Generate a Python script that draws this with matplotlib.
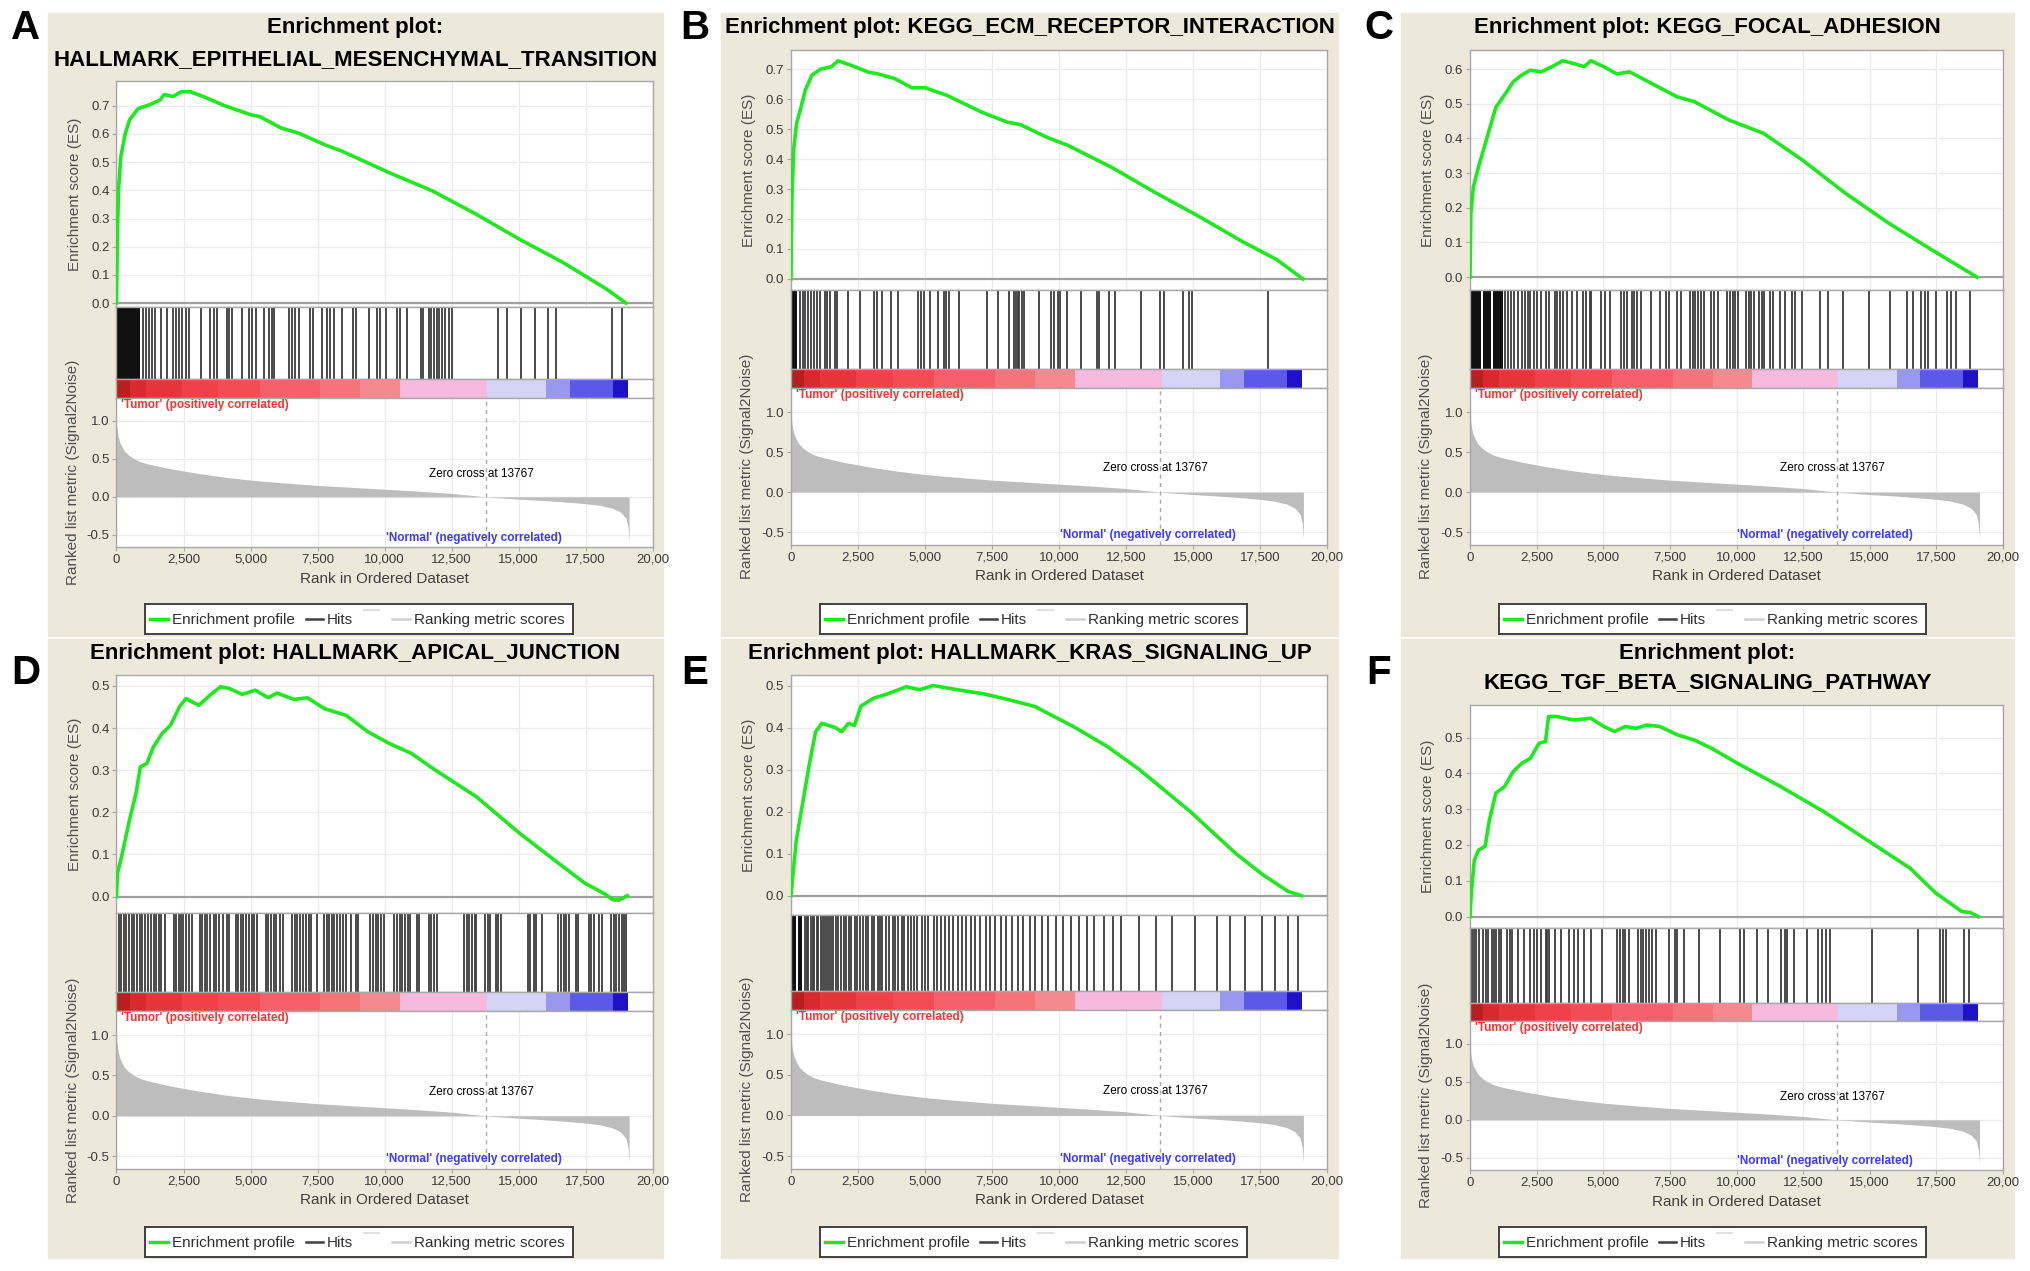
import matplotlib
matplotlib.use('Agg')
import matplotlib.pyplot as plt
from matplotlib.patches import Rectangle

W, H = 2031, 1271
plt.rcParams['font.family'] = ['Liberation Sans', 'DejaVu Sans']

# ---- shared ranked list (same dataset in every panel) ----
metric_rank = [0, 20, 60, 120, 200, 300, 450, 650, 900, 1200, 1600, 2000, 2500, 3000,
               4000, 5000, 6000, 7500, 9000, 10000, 11000, 12500, 13767, 15000, 16000,
               17000, 17500, 18000, 18500, 18800, 19000, 19080, 19120]
metric_value = [0.97, 0.90, 0.80, 0.72, 0.66, 0.60, 0.55, 0.50, 0.46, 0.43, 0.40, 0.37,
                0.34, 0.31, 0.26, 0.22, 0.19, 0.15, 0.12, 0.10, 0.08, 0.045, 0.0, -0.03,
                -0.05, -0.075, -0.09, -0.11, -0.15, -0.20, -0.28, -0.40, -0.58]
zero_cross = 13767
bar_edges = [0, 485, 1100, 2425, 3800, 5336, 7600, 9100, 10591, 13825, 16008, 16898, 18515, 19080]
bar_colors = ['#b82020', '#d82a2e', '#e4353b', '#ee4248', '#f24c54', '#f4606a', '#f47478',
              '#f48a90', '#f6bade', '#d4d4f6', '#9898f0', '#5a5ae6', '#1e12c6']
xtick_vals = [0, 2500, 5000, 7500, 10000, 12500, 15000, 17500, 20000]
xtick_text = ['0', '2,500', '5,000', '7,500', '10,000', '12,500', '15,000', '17,500', '20,00']

# ---- panel A ----
title_a = ['Enrichment plot:', 'HALLMARK_EPITHELIAL_MESENCHYMAL_TRANSITION']
es_rank_a = [0, 32, 81, 162, 323, 485, 808, 1213, 1617, 1779, 2102, 2425, 2749, 3234, 4042,
             5013, 5336, 6145, 6791, 7762, 8408, 10187, 11804, 13421, 15038, 16655, 18272, 19000]
es_score_a = [0, 0.25, 0.41, 0.52, 0.60, 0.65, 0.69, 0.703, 0.72, 0.74, 0.733, 0.75, 0.75, 0.733,
              0.70, 0.668, 0.662, 0.621, 0.603, 0.562, 0.539, 0.462, 0.397, 0.315, 0.226,
              0.144, 0.05, 0.0]
dense_a = [(0, 870)]
hits_a = [986, 1091, 1223, 1315, 1420, 1657, 1880, 2117, 2235, 2341, 2446, 2577, 2709, 3156,
          3498, 3629, 3761, 4116, 4208, 4313, 4681, 4944, 5036, 5207, 5497, 5694, 5786, 5891,
          6444, 6549, 6654, 6812, 7233, 7311, 7666, 7864, 7969, 8100, 8416, 8811, 8916, 9415,
          9705, 9810, 10034, 10467, 10573, 10822, 11348, 11441, 11651, 11743, 11835, 11940,
          12045, 12137, 12269, 12400, 12532, 14241, 14570, 15070, 15622, 16082, 16411,
          18489, 18844]

# ---- panel B ----
title_b = ['Enrichment plot: KEGG_ECM_RECEPTOR_INTERACTION']
es_rank_b = [0, 32, 97, 211, 373, 535, 779, 1103, 1508, 1752, 2238, 2887, 3211, 3860, 4509,
             4995, 5807, 7104, 8077, 8564, 9537, 10348, 11970, 13592, 15214, 16836, 18134, 19100]
es_score_b = [0, 0.26, 0.43, 0.52, 0.573, 0.63, 0.68, 0.70, 0.708, 0.728, 0.713, 0.69, 0.685,
              0.669, 0.638, 0.638, 0.613, 0.557, 0.523, 0.515, 0.473, 0.445, 0.372, 0.288,
              0.209, 0.125, 0.064, 0.0]
dense_b = [(0, 240)]
hits_b = [342, 434, 526, 631, 763, 868, 973, 1091, 1262, 1354, 1447, 1657, 1710, 2117, 2577,
          3103, 3195, 3393, 3721, 3984, 4747, 4839, 4971, 5168, 5497, 5694, 5786, 5891, 6286,
          7311, 7706, 8127, 8324, 8390, 8455, 8521, 8626, 8705, 9245, 9705, 9810, 9968, 10034,
          10296, 10822, 11414, 11480, 11874, 12072, 13058, 13781, 13913, 14636, 14833, 14965,
          17792]

# ---- panel C ----
title_c = ['Enrichment plot: KEGG_FOCAL_ADHESION']
es_rank_c = [0, 32, 130, 324, 648, 971, 1295, 1619, 1943, 2266, 2671, 3076, 3481, 3886, 4290,
             4533, 5019, 5505, 5990, 6800, 7771, 8419, 9714, 11009, 12466, 14085, 15704,
             17323, 19023]
es_score_c = [0, 0.184, 0.261, 0.319, 0.405, 0.49, 0.525, 0.563, 0.583, 0.597, 0.592, 0.607,
              0.624, 0.616, 0.607, 0.624, 0.607, 0.586, 0.592, 0.559, 0.52, 0.506, 0.453,
              0.415, 0.338, 0.242, 0.156, 0.079, 0.0]
dense_c = [(0, 420), (470, 800), (870, 1240)]
hits_c = [1330, 1422, 1528, 1659, 1791, 1949, 2055, 2160, 2252, 2384, 2515, 2647, 2845, 2976,
          3174, 3266, 3372, 3503, 3635, 3832, 4004, 4228, 4359, 4491, 4557, 4926, 5057, 5242,
          5676, 5768, 5874, 6071, 6137, 6269, 6401, 6796, 7125, 7349, 7454, 7783, 7915, 8244,
          8350, 8442, 8574, 8666, 8771, 9034, 9166, 9298, 9627, 9759, 9851, 9956, 10062,
          10351, 10457, 10549, 10641, 10852, 10944, 11036, 11273, 11378, 11642, 11826, 12090,
          12195, 12459, 13117, 13447, 14013, 14961, 15778, 16410, 16607, 16937, 17068, 17174,
          17490, 17885, 18056, 18254, 18780]

# ---- panel D ----
title_d = ['Enrichment plot: HALLMARK_APICAL_JUNCTION']
es_rank_d = [0, 32, 162, 323, 485, 728, 889, 1132, 1374, 1698, 2021, 2345, 2587, 3072, 3557,
             3881, 4204, 4689, 5174, 5660, 5983, 6630, 7115, 7762, 8570, 9379, 10187, 10996,
             11804, 13421, 15038, 16655, 17464, 18272, 18515, 18757, 19050]
es_score_d = [0, 0.055, 0.087, 0.134, 0.182, 0.245, 0.308, 0.316, 0.355, 0.387, 0.407, 0.45,
              0.47, 0.454, 0.482, 0.498, 0.494, 0.48, 0.49, 0.472, 0.483, 0.468, 0.472, 0.446,
              0.43, 0.391, 0.363, 0.34, 0.304, 0.237, 0.15, 0.071, 0.032, 0.004, -0.008,
              -0.008, 0.002]
dense_d = []
hits_d = [79, 171, 263, 368, 473, 565, 658, 763, 868, 960, 1065, 1184, 1289, 1394, 1486, 1578,
          1657, 1815, 2143, 2236, 2314, 2406, 2499, 2604, 2709, 2801, 3103, 3196, 3288, 3393,
          3498, 3629, 3722, 3814, 3985, 4116, 4208, 4445, 4550, 4642, 4734, 4839, 4944, 5036,
          5129, 5234, 5562, 5655, 5760, 5865, 5957, 6088, 6220, 6549, 6654, 6746, 6838, 6943,
          7075, 7180, 7272, 7469, 7732, 7837, 7930, 8022, 8127, 8232, 8324, 8455, 8548, 8758,
          8916, 9021, 9468, 9573, 9678, 9771, 9863, 9968, 10362, 10467, 10559, 10652, 10757,
          10862, 10954, 11217, 11283, 11651, 11743, 11835, 11940, 12966, 13058, 13150, 13255,
          13360, 13413, 13755, 13847, 13913, 14149, 14241, 14334, 15333, 15425, 15556, 15649,
          15859, 16477, 16569, 16674, 16779, 16871, 17134, 17200, 17621, 17700, 17792, 17989,
          18094, 18449, 18542, 18647, 18752, 18844, 18936, 19015]

# ---- panel E ----
title_e = ['Enrichment plot: HALLMARK_KRAS_SIGNALING_UP']
es_rank_e = [0, 193, 435, 676, 918, 1150, 1401, 1650, 1884, 2150, 2367, 2609, 3092, 3600,
             4300, 4800, 5300, 6200, 7200, 8200, 9100, 10600, 11800, 13000, 14900, 16600,
             17600, 18550, 19050]
es_score_e = [0, 0.13, 0.22, 0.31, 0.39, 0.41, 0.405, 0.40, 0.39, 0.41, 0.405, 0.451, 0.47,
              0.48, 0.497, 0.49, 0.50, 0.49, 0.48, 0.465, 0.45, 0.40, 0.355, 0.30, 0.20, 0.10,
              0.05, 0.01, 0.0]
dense_e = [(0, 180), (260, 420)]
hits_e = [520, 590, 640, 730, 810, 870, 960, 1020, 1110, 1190, 1250, 1340, 1430, 1480, 1570,
          1690, 1760, 1850, 1990, 2060, 2180, 2250, 2390, 2470, 2560, 2700, 2780, 2870, 3010,
          3090, 3230, 3330, 3400, 3560, 3650, 3790, 3880, 3990, 4130, 4210, 4360, 4480, 4590,
          4720, 4890, 4990, 5120, 5330, 5450, 5600, 5760, 5880, 6030, 6240, 6390, 6520, 6710,
          6880, 7050, 7260, 7420, 7610, 7840, 8010, 8230, 8470, 8640, 8900, 9120, 9350, 9600,
          9890, 10150, 10430, 10760, 11040, 11320, 11680, 12010, 12330, 12990, 13620, 14200,
          15070, 15890, 16370, 16950, 17580, 18060, 18550, 18930]

# ---- panel F ----
title_f = ['Enrichment plot:', 'KEGG_TGF_BETA_SIGNALING_PATHWAY']
es_rank_f = [0, 49, 162, 324, 567, 729, 971, 1295, 1619, 1943, 2266, 2590, 2833, 2947, 3238,
             3886, 4533, 5019, 5424, 5829, 6234, 6638, 7124, 7771, 8419, 9066, 10038, 11657,
             13276, 14895, 16514, 17485, 18457, 18781, 19070]
es_score_f = [0, 0.065, 0.158, 0.186, 0.196, 0.27, 0.345, 0.363, 0.405, 0.428, 0.442, 0.484,
              0.489, 0.559, 0.559, 0.549, 0.554, 0.531, 0.517, 0.531, 0.526, 0.535, 0.531,
              0.508, 0.493, 0.47, 0.428, 0.363, 0.293, 0.214, 0.135, 0.065, 0.014, 0.011, 0.0]
dense_f = []
hits_f = [81, 162, 243, 324, 486, 616, 680, 810, 891, 972, 1102, 1166, 1377, 1490, 1588, 1814,
          2025, 2268, 2398, 2511, 2673, 2835, 2900, 2948, 3208, 3402, 3726, 3888, 4050, 4293,
          4536, 4941, 5508, 5638, 5751, 5832, 5962, 6286, 6399, 6480, 6610, 6723, 6836, 6998,
          7484, 7695, 7776, 8019, 8586, 9396, 10125, 10287, 10773, 11178, 11664, 11826, 11907,
          12150, 12636, 13041, 13203, 13365, 13527, 15066, 16816, 17626, 17739, 17852, 18549,
          18711]

BG = '#ece8da'
GRAY = '#a8a8a8'
GRID = '#ececec'
TICKC = '#3a3a3a'


def box(l, t, r, b):
    return [l / W, 1 - b / H, (r - l) / W, (b - t) / H]


def style(ax):
    for s in ax.spines.values():
        s.set_color(GRAY)
        s.set_linewidth(1.0)


def panel(fig, letter, col_geo, geo, title, es_x, es_y, es_lim, es_top_tick, hits, dense):
    bg_l, bg_r, ax_l, ax_r, letter_x = col_geo
    bg_t, bg_b, title_ys, letter_y, es_t, hits_t, bar_t, rank_t, rank_b, leg_t = geo

    fig.patches.append(Rectangle((bg_l / W, 1 - bg_b / H), (bg_r - bg_l) / W, (bg_b - bg_t) / H,
                                 transform=fig.transFigure, color=BG, zorder=-5))
    fig.text(letter_x / W, 1 - letter_y / H, letter, fontsize=29, weight='bold',
             ha='center', va='center')
    cx = (bg_l + bg_r) / 2
    for s, ty in zip(title, title_ys):
        fig.text(cx / W, 1 - ty / H, s, fontsize=16, weight='bold', ha='center', va='center')

    # enrichment score
    ax = fig.add_axes(box(ax_l, es_t, ax_r, hits_t))
    style(ax)
    ax.set_xlim(0, 20000)
    ax.set_ylim(*es_lim)
    ax.set_xticks(xtick_vals)
    ax.tick_params(axis='x', length=0, labelbottom=False)
    ticks = [i / 10 for i in range(int(round(es_top_tick * 10)) + 1)]
    ax.set_yticks(ticks)
    ax.set_yticklabels(['%.1f' % t for t in ticks])
    ax.tick_params(axis='y', length=3, color=GRAY, labelsize=9.5, labelcolor=TICKC, pad=2)
    ax.grid(True, color=GRID, lw=1.0)
    ax.axhline(0, color='#a0a0a0', lw=1.6, zorder=2)
    ax.plot(es_x, es_y, color='#1ee81e', lw=2.6, zorder=3)
    fig.text((ax_l - 42) / W, 1 - (es_t + hits_t) / 2 / H, 'Enrichment score (ES)',
             rotation=90, fontsize=11, color='#505050', ha='center', va='center')

    # hits
    axh = fig.add_axes(box(ax_l, hits_t, ax_r, bar_t))
    style(axh)
    axh.set_xlim(0, 20000)
    axh.set_ylim(0, 1)
    axh.set_xticks([])
    axh.set_yticks([])
    for a, b in dense:
        axh.axvspan(a, b, color='#111111', lw=0)
    axh.vlines(hits, 0, 1, color='#3c3c3c', lw=1.3)

    # colour bar
    axb = fig.add_axes(box(ax_l, bar_t, ax_r, rank_t))
    style(axb)
    axb.set_xlim(0, 20000)
    axb.set_ylim(0, 1)
    axb.set_xticks([])
    axb.set_yticks([])
    for i, c in enumerate(bar_colors):
        axb.axvspan(bar_edges[i], bar_edges[i + 1], color=c, lw=0)

    # ranked list metric
    axr = fig.add_axes(box(ax_l, rank_t, ax_r, rank_b))
    style(axr)
    axr.set_xlim(0, 20000)
    axr.set_ylim(-0.66, 1.30)
    axr.set_xticks(xtick_vals)
    axr.set_xticklabels(xtick_text)
    axr.set_yticks([-0.5, 0.0, 0.5, 1.0])
    axr.set_yticklabels(['-0.5', '0.0', '0.5', '1.0'])
    axr.tick_params(length=3, color=GRAY, labelsize=9.5, labelcolor=TICKC, pad=2)
    axr.grid(True, color=GRID, lw=1.0)
    axr.fill_between(metric_rank, 0, metric_value, color='#bdbdbd', lw=0, zorder=2)
    axr.axvline(zero_cross, color='#a8a8a8', lw=1.0, ls=(0, (3, 3)), zorder=3)
    axr.text(13600, 0.30, 'Zero cross at 13767', fontsize=8.5, ha='center', va='center')
    axr.text(13330, -0.54, "'Normal' (negatively correlated)", fontsize=8.5,
             color='#3b3bff', weight='bold', ha='center', va='center')
    fig.text((ax_l + 5) / W, 1 - (rank_t + 7) / H, "'Tumor' (positively correlated)",
             fontsize=8.5, color='#ff3030', weight='bold', ha='left', va='center')
    axr.set_xlabel('Rank in Ordered Dataset', fontsize=11, color='#404040', labelpad=4)
    fig.text((ax_l - 44) / W, 1 - (rank_t + rank_b) / 2 / H,
             'Ranked list metric (Signal2Noise)', rotation=90, fontsize=11,
             color='#505050', ha='center', va='center')

    # legend
    axl = fig.add_axes(box(ax_l + 29, leg_t, ax_l + 456, leg_t + 30))
    axl.set_xlim(0, 427)
    axl.set_ylim(0, 30)
    axl.set_xticks([])
    axl.set_yticks([])
    for s in axl.spines.values():
        s.set_color('#404040')
        s.set_linewidth(1.4)
    axl.plot([5, 23], [15, 15], color='#1ee81e', lw=2.5)
    axl.text(27, 14, 'Enrichment profile', fontsize=11, color='#303030', va='center')
    axl.plot([160, 177], [15, 15], color='#404040', lw=1.8)
    axl.text(181, 14, 'Hits', fontsize=11, color='#303030', va='center')
    axl.plot([218, 233], [24, 24], color='#e0e0e0', lw=1.5)
    axl.plot([246, 264], [15, 15], color='#d0d0d0', lw=1.8)
    axl.text(268, 14, 'Ranking metric scores', fontsize=11, color='#303030', va='center')


fig = plt.figure(figsize=(W / 100, H / 100), dpi=100)
fig.patch.set_facecolor('white')

cols = [(48, 663, 116.5, 652.7, 26), (721, 1338, 791, 1327, 695), (1401, 2014, 1470, 2003, 1379)]
geo_a = (13, 636, [28, 60], 28, 81, 307, 379, 398, 547, 604)
geo_b = (13, 636, [27], 28, 50, 290, 369, 388, 545, 604)
geo_c = (13, 636, [28], 28, 50, 290, 369, 388, 545, 604)
geo_d = (639, 1258, [653], 673, 675, 913, 992, 1011, 1169, 1227)
geo_e = (639, 1258, [653], 673, 675, 915, 991, 1010, 1169, 1227)
geo_f = (639, 1258, [653, 683], 673, 705, 928, 1003, 1021, 1170, 1227)

panel(fig, 'A', cols[0], geo_a, title_a, es_rank_a, es_score_a, (-0.014, 0.788), 0.7, hits_a, dense_a)
panel(fig, 'B', cols[1], geo_b, title_b, es_rank_b, es_score_b, (-0.037, 0.764), 0.7, hits_b, dense_b)
panel(fig, 'C', cols[2], geo_c, title_c, es_rank_c, es_score_c, (-0.037, 0.655), 0.6, hits_c, dense_c)
panel(fig, 'D', cols[0], geo_d, title_d, es_rank_d, es_score_d, (-0.039, 0.526), 0.5, hits_d, dense_d)
panel(fig, 'E', cols[1], geo_e, title_e, es_rank_e, es_score_e, (-0.046, 0.525), 0.5, hits_e, dense_e)
panel(fig, 'F', cols[2], geo_f, title_f, es_rank_f, es_score_f, (-0.032, 0.591), 0.5, hits_f, dense_f)

fig.savefig('out.png', dpi=100)
